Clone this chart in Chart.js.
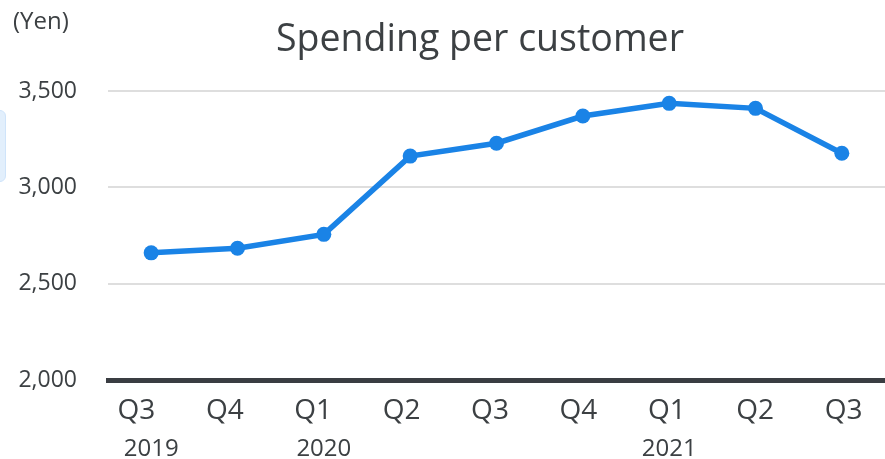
<!DOCTYPE html>
<html>
<head>
<meta charset="utf-8">
<script src="https://cdn.jsdelivr.net/npm/chart.js@4.4.1/dist/chart.umd.min.js"></script>
<style>
  html, body { margin: 0; padding: 0; background: #ffffff; }
  #wrap { position: relative; width: 885px; height: 459px; overflow: hidden; }
  #chart { position: absolute; left: 0; top: 0; }
  .txt { position: absolute; font-family: "Open Sans", sans-serif; color: #3c4043; white-space: nowrap; }
  #title { left: 0; width: 960px; top: 13px; text-align: center; font-size: 37.5px; line-height: 48px; }
  #unit { left: 13px; top: 6px; font-size: 24px; line-height: 28px; }
  #tab { position: absolute; left: -8px; top: 110px; width: 12px; height: 70px;
         background: #e2effc; border: 1px solid #cfe4fa; border-radius: 6px; }
</style>
</head>
<body>
<div id="wrap">
  <canvas id="chart" width="885" height="459"></canvas>
  <div class="txt" id="title">Spending per customer</div>
  <div class="txt" id="unit">(Yen)</div>
  <div id="tab"></div>
</div>
<script>
// Quarterly spending per customer, in yen
const quarters = ['Q3', 'Q4', 'Q1', 'Q2', 'Q3', 'Q4', 'Q1', 'Q2', 'Q3'];
const years = ['2019', '', '2020', '', '', '', '2021', '', ''];
const spending = [2660, 2684, 2756, 3162, 3229, 3370, 3436, 3410, 3177];
const yTicks = [2000, 2500, 3000, 3500];

const textColor = '#3c4043';
const lineBlue = '#1a83e6';

// The quarter row is laid out a little wider than the plot, slightly left of centre.
const quarterSpread = 1.024;
const quarterShift = -6.5;

const spreadQuarterLabels = {
  id: 'spreadQuarterLabels',
  beforeDraw(chart) {
    const s = chart.scales.x;
    if (!s || typeof s.getLabelItems !== 'function') return;
    const items = s.getLabelItems(chart.chartArea);
    const c = (chart.chartArea.left + chart.chartArea.right) / 2;
    items.forEach((item, i) => {
      const px = s.getPixelForTick(i);
      if (item.options && item.options.translation) {
        item.options.translation[0] = c + (px - c) * quarterSpread + quarterShift;
      }
    });
  }
};

const zeroSidePadding = (s) => { s.paddingLeft = 0; s.paddingRight = 0; };

new Chart(document.getElementById('chart'), {
  type: 'line',
  data: {
    labels: quarters,
    datasets: [{
      data: spending,
      xAxisID: 'x',
      yAxisID: 'y',
      borderColor: lineBlue,
      backgroundColor: lineBlue,
      borderWidth: 5.5,
      pointRadius: 7.5,
      pointHoverRadius: 7.5,
      pointBorderWidth: 0,
      tension: 0,
      fill: false,
      clip: false
    }]
  },
  options: {
    responsive: false,
    animation: false,
    devicePixelRatio: 1,
    layout: { autoPadding: false, padding: { top: 91, right: -2, bottom: 0, left: 0 } },
    plugins: {
      legend: { display: false },
      title: { display: false },
      tooltip: { enabled: false }
    },
    scales: {
      x: {
        type: 'category',
        position: 'bottom',
        offset: true,
        grid: { display: false, drawTicks: false },
        border: { display: true, color: '#3a3d42', width: 5 },
        ticks: {
          color: textColor,
          padding: 14,
          font: { family: 'Open Sans', size: 28 },
          maxRotation: 0,
          autoSkip: false
        },
        afterFit: (s) => { s.height = 50; zeroSidePadding(s); }
      },
      x2: {
        type: 'category',
        position: 'bottom',
        labels: years,
        offset: true,
        grid: { display: false, drawTicks: false },
        border: { display: false },
        ticks: {
          color: textColor,
          padding: 5,
          font: { family: 'Open Sans', size: 24 },
          maxRotation: 0,
          autoSkip: false
        },
        afterFit: (s) => { s.height = 29; zeroSidePadding(s); }
      },
      y: {
        min: yTicks[0],
        max: yTicks[yTicks.length - 1],
        grid: { color: '#dedede', lineWidth: 2, drawTicks: false },
        border: { display: false },
        afterBuildTicks: (s) => { s.ticks = yTicks.map(v => ({ value: v })); },
        ticks: {
          color: textColor,
          padding: 31,
          font: { family: 'Open Sans', size: 23 },
          callback: (v) => v.toLocaleString('en-US')
        },
        afterFit: (s) => { s.width = 108; }
      }
    }
  },
  plugins: [spreadQuarterLabels]
});
</script>
</body>
</html>
